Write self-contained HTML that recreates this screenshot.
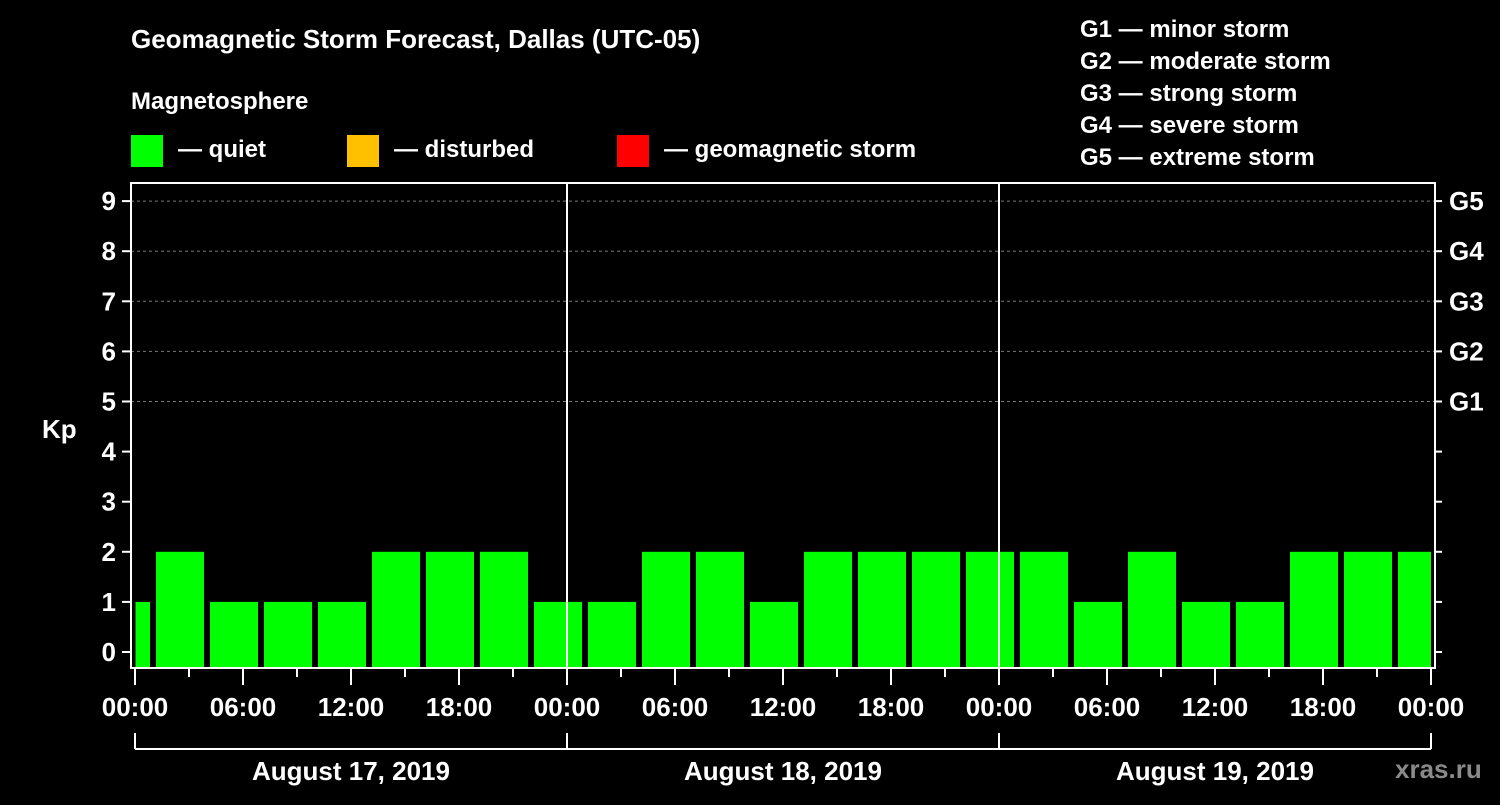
<!DOCTYPE html>
<html><head><meta charset="utf-8"><style>
body{margin:0;background:#000;width:1500px;height:800px;overflow:hidden}
svg text{font-family:"Liberation Sans",sans-serif;font-weight:bold;fill:#fff}
</style></head><body>
<svg id="c" width="1500" height="800">
<rect width="1500" height="800" fill="#000"/>
<text x="131" y="48" font-size="26">Geomagnetic Storm Forecast, Dallas (UTC-05)</text>
<text x="131" y="109" font-size="24">Magnetosphere</text>
<g><rect x="131" y="135" width="32" height="32" fill="#00ff00"/><text x="178" y="157" font-size="24">— quiet</text></g>
<g><rect x="347" y="135" width="32" height="32" fill="#ffc000"/><text x="394" y="157" font-size="24">— disturbed</text></g>
<g><rect x="617" y="135" width="32" height="32" fill="#ff0000"/><text x="664" y="157" font-size="24">— geomagnetic storm</text></g>
<g font-size="24">
<text x="1080" y="37">G1 — minor storm</text>
<text x="1080" y="69">G2 — moderate storm</text>
<text x="1080" y="101">G3 — strong storm</text>
<text x="1080" y="133">G4 — severe storm</text>
<text x="1080" y="165">G5 — extreme storm</text>
</g>
<text x="42" y="438" font-size="26">Kp</text>
<text x="1395" y="778" font-size="26" fill="#888" style="fill:#8a8a8a">xras.ru</text>
<g id="plot"></g>
</svg>
<script>
const days = ["August 17, 2019","August 18, 2019","August 19, 2019"];
const hourLabels = ["00:00","06:00","12:00","18:00"];
const kpTicks = [0,1,2,3,4,5,6,7,8,9];
const gLabels = ["G1","G2","G3","G4","G5"];
const barStartHours = [-2,1,4,7,10,13,16,19,22,25,28,31,34,37,40,43,46,49,52,55,58,61,64,67,70];
const kpValues = [1,2,1,1,1,2,2,2,1,1,2,2,1,2,2,2,2,2,1,2,1,1,2,2,2];

const NS="http://www.w3.org/2000/svg";
const g=document.getElementById('plot');
const X0=135, PX_H=18, Y0=652, PX_K=50.1, TOP=183, BOT=668, L=131, R=1435;
const x=h=>X0+h*PX_H, y=k=>Y0-k*PX_K;
function mk(t,a,p){const e=document.createElementNS(NS,t);for(const k in a)e.setAttribute(k,a[k]);(p||g).appendChild(e);return e;}
const totalH=days.length*24;
// grid
[5,6,7,8,9].forEach(k=>{const e=mk('line',{x1:L,x2:R,y1:y(k),y2:y(k),stroke:'#777','stroke-dasharray':'3,3','stroke-width':1});

});
// bars
barStartHours.forEach((s,i)=>{
 const a=Math.max(s,0), b=Math.min(s+3,totalH);
 const x1=x(a)+(s<0?0.5:3), x2=x(b)-(s+3>totalH?0:3);
 const r=mk('rect',{x:x1,y:y(kpValues[i]),width:x2-x1,height:BOT-y(kpValues[i]),fill:kpValues[i]>=5?'#ff0000':kpValues[i]>=4?'#ffc000':'#00ff00'});
 
 
});
// day separators
for(let d=1;d<days.length;d++){const e=mk('line',{x1:x(d*24),x2:x(d*24),y1:TOP,y2:BOT,stroke:'#fff','stroke-width':2});

}
// axes frame
const fr=mk('rect',{x:L,y:TOP,width:R-L,height:BOT-TOP,fill:'none',stroke:'#fff','stroke-width':2});


// y ticks
kpTicks.forEach(k=>{
 mk('line',{x1:122,x2:L,y1:y(k),y2:y(k),stroke:'#fff','stroke-width':2});
 mk('line',{x1:R,x2:1442,y1:y(k),y2:y(k),stroke:'#fff','stroke-width':2});
 const t=mk('text',{x:116,y:y(k)+9,'text-anchor':'end','font-size':26});t.textContent=k;
 
 
});
gLabels.forEach((s,i)=>{const t=mk('text',{x:1449,y:y(i+5)+9,'font-size':26});t.textContent=s;
 
 });
// x ticks
for(let h=0;h<=totalH;h+=3){
 mk('line',{x1:x(h),x2:x(h),y1:BOT,y2:h%6==0?685:677,stroke:'#fff','stroke-width':2});
 if(h%6==0){const t=mk('text',{x:x(h),y:716,'text-anchor':'middle','font-size':26});t.textContent=hourLabels[(h/6)%4];
 
 }
}
// day brackets
mk('line',{x1:x(0),x2:x(totalH),y1:749,y2:749,stroke:'#fff','stroke-width':2});
for(let d=0;d<=days.length;d++)mk('line',{x1:x(d*24),x2:x(d*24),y1:733,y2:749,stroke:'#fff','stroke-width':2});
days.forEach((s,d)=>{const t=mk('text',{x:x(d*24+12),y:780,'text-anchor':'middle','font-size':26});t.textContent=s;
 
 });
</script>
</body></html>
